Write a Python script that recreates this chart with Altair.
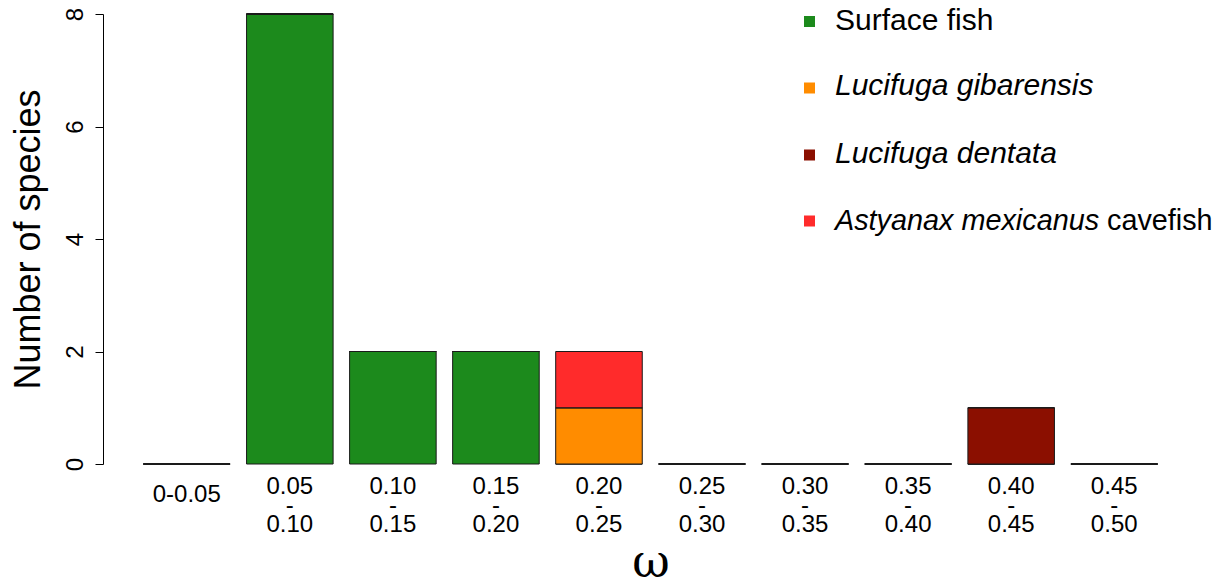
import altair as alt
import pandas as pd

# ---- data ----
categories = ["0-0.05", "0.05\n-\n0.10", "0.10\n-\n0.15", "0.15\n-\n0.20", "0.20\n-\n0.25",
              "0.25\n-\n0.30", "0.30\n-\n0.35", "0.35\n-\n0.40", "0.40\n-\n0.45", "0.45\n-\n0.50"]
series = ["Surface fish", "Lucifuga gibarensis", "Lucifuga dentata", "Astyanax mexicanus cavefish"]
surface_fish = [0, 8, 2, 2, 0, 0, 0, 0, 0, 0]
lucifuga_gibarensis = [0, 0, 0, 0, 1, 0, 0, 0, 0, 0]
lucifuga_dentata = [0, 0, 0, 0, 0, 0, 0, 0, 1, 0]
astyanax_cavefish = [0, 0, 0, 0, 1, 0, 0, 0, 0, 0]
colors = ["#1C8A1C", "#FF8C00", "#8B0F00", "#FF2B2B"]

legend_main = ["Surface fish", "Lucifuga gibarensis", "Lucifuga dentata", "Astyanax mexicanus"]
legend_style = ["normal", "italic", "italic", "italic"]
legend_suffix = ["", "", "", "cavefish"]
legend_size = [30, 30, 30, 28.8]

values = [surface_fish, lucifuga_gibarensis, lucifuga_dentata, astyanax_cavefish]
rows = []
for si, (s, vals) in enumerate(zip(series, values)):
    for c, v in zip(categories, vals):
        rows.append({"bin": c, "series": s, "count": v, "order": si})
df = pd.DataFrame(rows)

FONT = "Liberation Sans"

bars = alt.Chart(df).mark_bar(stroke="#1a1a1a", strokeWidth=1).encode(
    x=alt.X("bin:N", sort=categories,
            scale=alt.Scale(paddingInner=0.16, paddingOuter=0.393),
            axis=alt.Axis(title="ω", domain=False, ticks=False, labelAngle=0,
                          labelExpr="split(datum.label, '\\n')",
                          labelFont=FONT, labelFontSize=24, labelColor="black",
                          labelLineHeight=19, labelBaseline="alphabetic",
                          labelPadding={"condition": {"test": "datum.value == '0-0.05'", "value": 37.6},
                                        "value": 29.6},
                          titleFont="DejaVu Serif", titleFontSize=46, titleFontWeight="normal",
                          titleColor="black", titleBaseline="alphabetic", titleAlign="center",
                          titleX=547.5, titleY=112)),
    y=alt.Y("count:Q", stack="zero",
            scale=alt.Scale(domain=[0, 8], nice=False),
            axis=alt.Axis(title="Number of species", values=[0, 2, 4, 6, 8], grid=False,
                          domainColor="black", tickColor="black", tickSize=8,
                          labelAngle=270, labelAlign="center", labelBaseline="alphabetic",
                          labelPadding=13, labelFont=FONT, labelFontSize=24, labelColor="black",
                          titleFont=FONT, titleFontSize=36, titleFontWeight="normal",
                          titleColor="black", titleAngle=270, titleBaseline="alphabetic",
                          titleAlign="center", titleX=-63.5, titleY=225)),
    color=alt.Color("series:N", scale=alt.Scale(domain=series, range=colors), legend=None),
    order=alt.Order("order:Q", sort="ascending"),
)

# custom legend (mixed italic / roman text)
legend_layers = []
sq_y = [7.5, 74, 141, 207]
txt_y = [16, 81, 149, 216]
for i in range(len(series)):
    legend_layers.append(
        alt.Chart(pd.DataFrame({"s": [series[i]]})).mark_square(size=121, opacity=1).encode(
            x=alt.value(706.5), y=alt.value(sq_y[i]), color=alt.value(colors[i]))
    )
    legend_layers.append(
        alt.Chart(pd.DataFrame({"t": [legend_main[i]]})).mark_text(
            align="left", baseline="alphabetic", font=FONT, fontSize=legend_size[i],
            fontStyle=legend_style[i], color="black").encode(
            x=alt.value(732), y=alt.value(txt_y[i]), text="t:N")
    )
    if legend_suffix[i]:
        legend_layers.append(
            alt.Chart(pd.DataFrame({"t": [legend_suffix[i]]})).mark_text(
                align="left", baseline="alphabetic", font=FONT, fontSize=legend_size[i],
                fontStyle="normal", color="black").encode(
                x=alt.value(1004), y=alt.value(txt_y[i]), text="t:N")
        )

chart = alt.layer(bars, *legend_layers).properties(
    width=1095, height=450,
    background="white",
    autosize=alt.AutoSizeParams(type="none"),
    padding={"left": 95, "top": 6, "right": 16, "bottom": 114},
).configure_view(stroke=None)

chart.save("out.html", embed_options={"renderer": "svg", "actions": False})
